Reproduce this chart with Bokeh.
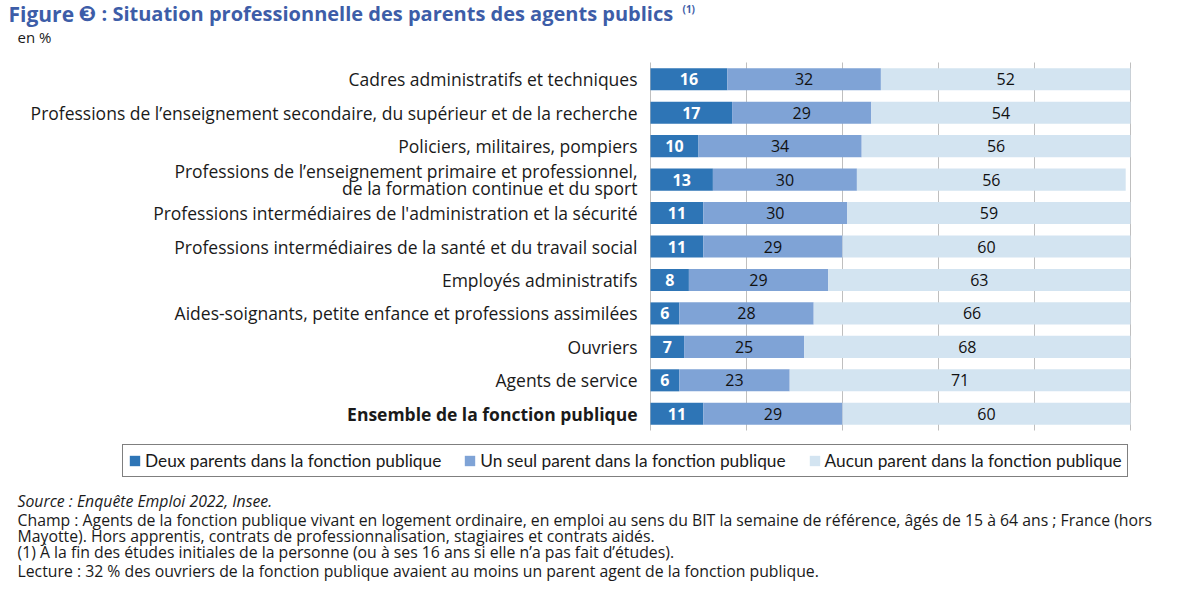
from bokeh.plotting import figure
from bokeh.models import ColumnDataSource, Label, Legend, LegendItem, Range1d
from bokeh.embed import file_html
from bokeh.resources import INLINE
from bokeh.core.properties import value

categories = [
    "Cadres administratifs et techniques",
    "Professions de l\u2019enseignement secondaire, du sup\u00e9rieur et de la recherche",
    "Policiers, militaires, pompiers",
    "Professions de l\u2019enseignement primaire et professionnel,\nde la formation continue et du sport",
    "Professions interm\u00e9diaires de l'administration et la s\u00e9curit\u00e9",
    "Professions interm\u00e9diaires de la sant\u00e9 et du travail social",
    "Employ\u00e9s administratifs",
    "Aides-soignants, petite enfance et professions assimil\u00e9es",
    "Ouvriers",
    "Agents de service",
    "Ensemble de la fonction publique",
]
deux = [16, 17, 10, 13, 11, 11, 8, 6, 7, 6, 11]
un = [32, 29, 34, 30, 30, 29, 29, 28, 25, 23, 29]
aucun = [52, 54, 56, 56, 59, 60, 63, 66, 68, 71, 60]
series = [
    "Deux parents dans la fonction publique",
    "Un seul parent dans la fonction publique",
    "Aucun parent dans la fonction publique",
]
grid_ticks = [0, 20, 40, 60, 80, 100]
colors = ["#2E75B6", "#7FA3D6", "#D3E4F1"]

title_parts = ["Figure", "\u2778", ": Situation professionnelle des parents des agents publics", "(1)"]
footer = [
    ("Source : Enqu\u00eate Emploi 2022, Insee.", "italic"),
    ("Champ : Agents de la fonction publique vivant en logement ordinaire, en emploi au sens du BIT la semaine de r\u00e9f\u00e9rence, \u00e2g\u00e9s de 15 \u00e0 64 ans ; France (hors", "normal"),
    ("Mayotte). Hors apprentis, contrats de professionnalisation, stagiaires et contrats aid\u00e9s.", "normal"),
    ("(1) \u00c0 la fin des \u00e9tudes initiales de la personne (ou \u00e0 ses 16 ans si elle n\u2019a pas fait d\u2019\u00e9tudes).", "normal"),
    ("Lecture : 32 % des ouvriers de la fonction publique avaient au moins un parent agent de la fonction publique.", "normal"),
]

FONT = "Open Sans"
TCOL = "#3D5DA8"
W, H = 1180, 588
# pixel geometry of the bar area inside the canvas
X0, X100 = 650, 1130          # x = 0 and x = 100
YTOP, YBOT = 62, 430          # top / bottom of the row band
n = len(categories)
pxu = (X100 - X0) / 100.0
row = (YBOT - YTOP) / n
x_start = -X0 / pxu
x_end = (W - X0) / pxu
y_top = -0.5 - YTOP / row
y_bot = n - 0.5 + (H - YBOT) / row

ys = list(range(n))
src = ColumnDataSource(dict(y=ys, deux=deux, un=un, aucun=aucun))

p = figure(width=W, height=H, output_backend="svg", toolbar_location=None,
           x_range=Range1d(x_start, x_end), y_range=Range1d(y_bot, y_top),
           min_border=0)
p.xaxis.visible = False
p.yaxis.visible = False
p.outline_line_color = None
p.xgrid.grid_line_color = None
p.ygrid.grid_line_color = None

# vertical grid lines limited to the bar band
p.segment(x0=grid_ticks, x1=grid_ticks, y0=[-0.5] * len(grid_ticks), y1=[n - 0.5] * len(grid_ticks),
          line_color="#BFBFBF", line_width=1)

rends = p.hbar_stack(["deux", "un", "aucun"], y="y", height=0.66, color=colors,
                     line_color=None, source=src)

# value labels
lefts = [0] * n
for vals, tcol, style in [(deux, "white", "bold"), (un, "#111111", "normal"), (aucun, "#111111", "normal")]:
    xs = [l + v / 2 for l, v in zip(lefts, vals)]
    p.text(x=xs, y=ys, text=[str(v) for v in vals], text_align="center", text_baseline="middle",
           text_font=value(FONT), text_font_size="16px", text_color=tcol, text_font_style=style)
    lefts = [l + v for l, v in zip(lefts, vals)]

# category labels
for i, c in enumerate(categories):
    p.add_layout(Label(x=637, x_units="screen", y=i, y_units="data", text=c,
                       text_align="right", text_baseline="middle", text_font=FONT,
                       text_font_size="17.5px", text_color="#1a1a1a", text_line_height=0.68,
                       text_font_style="bold" if i == n - 1 else "normal"))

# title
for txt, x, yb, font, size in [(title_parts[0], 8, 13, FONT, "21px"),
                               (title_parts[1], 78, 13, "DejaVu Sans", "21px"),
                               (title_parts[2], 101, 13, FONT, "20px"),
                               (title_parts[3], 682, 8, FONT, "10px")]:
    p.add_layout(Label(x=x, y=H - yb, x_units="screen", y_units="screen", text=txt,
                       text_font=font, text_font_size=size, text_font_style="bold",
                       text_color=TCOL, text_baseline="alphabetic"))
p.add_layout(Label(x=17, y=H - 36, x_units="screen", y_units="screen", text="en %",
                   text_font=FONT, text_font_size="15px", text_color="#1a1a1a",
                   text_baseline="alphabetic"))

# footer
fy = [500, 519, 535, 551, 570]
for (t, st), yy in zip(footer, fy):
    p.add_layout(Label(x=17, y=H - yy, x_units="screen", y_units="screen", text=t,
                       text_font=FONT, text_font_size="15.8px", text_font_style=st,
                       text_color="#1a1a1a", text_baseline="alphabetic"))

legend = Legend(items=[LegendItem(label=s, renderers=[r]) for s, r in zip(series, rends)],
                location=(122, H - 477), orientation="horizontal",
                label_text_font="Lato", label_text_font_size="17.3px", label_text_color="#1a1a1a",
                glyph_width=13, glyph_height=13, label_standoff=4, spacing=22, padding=5,
                label_height=17,
                border_line_color="black", border_line_width=1, background_fill_alpha=1,
                margin=0)
p.add_layout(legend, "center")

open("out.html", "w").write(file_html(p, INLINE))
